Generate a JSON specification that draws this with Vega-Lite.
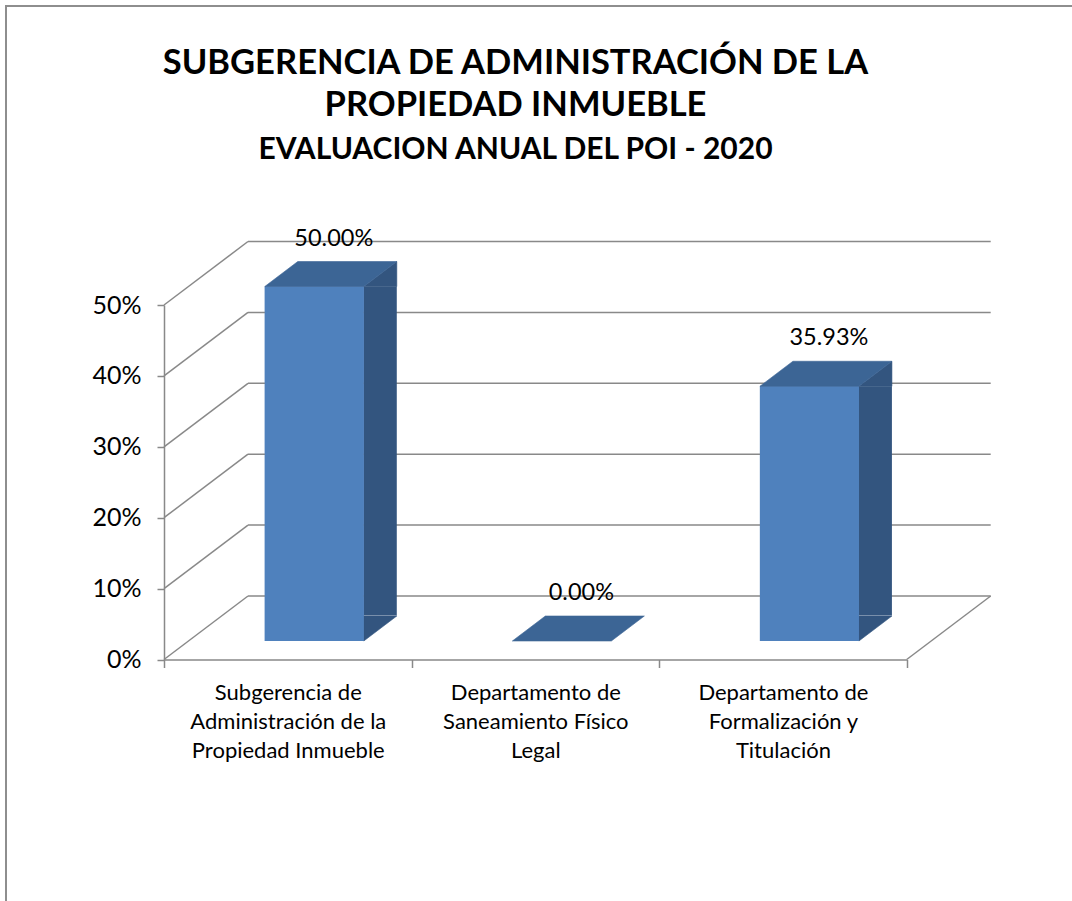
{
  "$schema": "https://vega.github.io/schema/vega-lite/v6.json",
  "width": 1069,
  "height": 898,
  "autosize": {"type": "none"},
  "padding": {"left": 6, "top": 6, "right": -3, "bottom": -3},
  "background": "white",
  "config": {"view": {"stroke": "#8e8e8e", "strokeWidth": 2}, "font": "Lato"},
  "title": {
    "text": ["SUBGERENCIA DE ADMINISTRACIÓN DE LA", "PROPIEDAD INMUEBLE"],
    "subtitle": "EVALUACION ANUAL DEL POI - 2020",
    "font": "Lato", "fontSize": 34.5, "fontWeight": "bold", "color": "black", "lineHeight": 42,
    "subtitleFont": "Lato", "subtitleFontSize": 30, "subtitleFontWeight": "bold", "subtitleColor": "black",
    "subtitlePadding": 12, "anchor": "middle", "frame": "group", "offset": -160, "dx": -25
  },
  "datasets": {
    "bars": [
      {"categoria": "Subgerencia de Administración de la Propiedad Inmueble", "avance": 0.5},
      {"categoria": "Departamento de Saneamiento Físico Legal", "avance": 0},
      {"categoria": "Departamento de Formalización y Titulación", "avance": 0.3593}
    ],
    "grid": [{"v": 0}, {"v": 0.1}, {"v": 0.2}, {"v": 0.3}, {"v": 0.4}, {"v": 0.5}]
  },
  "layer": [
    {
      "data": {"name": "bars"},
      "mark": {"type": "bar", "color": "#4f81bd", "width": 99, "xOffset": 26.5, "yOffset": -18.5, "y2Offset": -18.5},
      "encoding": {
        "x": {"field": "categoria", "type": "nominal",
              "scale": {"type": "band", "domain": ["Subgerencia de Administración de la Propiedad Inmueble", "Departamento de Saneamiento Físico Legal", "Departamento de Formalización y Titulación"], "range": [158, 900.7], "paddingInner": 0, "paddingOuter": 0},
              "axis": {"orient": "bottom", "offset": -244.5, "title": null, "tickBand": "extent", "labelAngle": 0,
                       "domainColor": "#898989", "domainWidth": 1.5, "tickColor": "#898989", "tickWidth": 1.5, "tickSize": 8,
                       "labelFont": "Lato", "labelFontSize": 22, "labelColor": "black", "labelPadding": 15, "labelLineHeight": 29, "labelLimit": 400,
                       "labelExpr": "datum.label == 'Subgerencia de Administración de la Propiedad Inmueble' ? ['Subgerencia de', 'Administración de la', 'Propiedad Inmueble'] : datum.label == 'Departamento de Saneamiento Físico Legal' ? ['Departamento de', 'Saneamiento Físico', 'Legal'] : datum.label == 'Departamento de Formalización y Titulación' ? ['Departamento de', 'Formalización y', 'Titulación'] : ''"}},
        "y": {"field": "avance", "type": "quantitative", "scale": {"domain": [0, 0.5], "range": [653.5, 299], "nice": false, "zero": true},
              "axis": {"orient": "left", "offset": -158, "title": null, "grid": false, "values": [0, 0.1, 0.2, 0.3, 0.4, 0.5], "format": ".0%",
                       "domainColor": "#898989", "domainWidth": 1.5, "tickColor": "#898989", "tickWidth": 1.5, "tickSize": 7,
                       "labelFont": "Lato", "labelFontSize": 25, "labelColor": "black", "labelPadding": 16}},
        "y2": {"datum": 0}
      }
    },
    {
      "data": {"name": "grid"},
      "mark": {"type": "rule", "color": "#898989", "strokeWidth": 1.5, "xOffset": 84, "x2Offset": 84, "yOffset": -63.5},
      "encoding": {
        "x": {"datum": "Subgerencia de Administración de la Propiedad Inmueble", "type": "nominal", "bandPosition": 0},
        "x2": {"datum": "Departamento de Formalización y Titulación", "bandPosition": 1},
        "y": {"field": "v", "type": "quantitative"}
      }
    },
    {
      "data": {"name": "grid"},
      "mark": {"type": "rule", "color": "#898989", "strokeWidth": 1.5, "x2Offset": 84, "y2Offset": -63.5},
      "encoding": {
        "x": {"datum": "Subgerencia de Administración de la Propiedad Inmueble", "type": "nominal", "bandPosition": 0},
        "x2": {"datum": "Subgerencia de Administración de la Propiedad Inmueble", "bandPosition": 0},
        "y": {"field": "v", "type": "quantitative"},
        "y2": {"field": "v"}
      }
    },
    {
      "data": {"name": "grid"},
      "transform": [{"filter": "datum.v == 0"}],
      "mark": {"type": "rule", "color": "#898989", "strokeWidth": 1.5, "x2Offset": 84, "y2Offset": -63.5},
      "encoding": {
        "x": {"datum": "Departamento de Formalización y Titulación", "type": "nominal", "bandPosition": 1},
        "x2": {"datum": "Departamento de Formalización y Titulación", "bandPosition": 1},
        "y": {"field": "v", "type": "quantitative"},
        "y2": {"field": "v"}
      }
    },
    {
      "data": {"name": "bars"},
      "transform": [{"filter": "datum.avance > 0"}],
      "mark": {"type": "bar", "color": "#33557f", "width": 33, "xOffset": 92.5, "yOffset": -18.5, "y2Offset": -44},
      "encoding": {
        "x": {"field": "categoria", "type": "nominal"},
        "y": {"field": "avance", "type": "quantitative"},
        "y2": {"datum": 0}
      }
    },
    {
      "data": {"name": "bars"},
      "transform": [{"filter": "datum.avance > 0"}],
      "mark": {"type": "point", "shape": "M 49.5 -25 L 49.5 0 L 82.5 -25 Z", "size": 4, "filled": true, "opacity": 1, "fill": "#33557f", "stroke": "#33557f", "strokeWidth": 0.6, "xOffset": 26.5, "yOffset": -18.5},
      "encoding": {
        "x": {"field": "categoria", "type": "nominal"},
        "y": {"datum": 0, "type": "quantitative"}
      }
    },
    {
      "data": {"name": "bars"},
      "transform": [{"filter": "datum.avance > 0"}],
      "mark": {"type": "point", "shape": "M 49.5 0 L 82.5 -25 L 82.5 0 Z", "size": 4, "filled": true, "opacity": 1, "fill": "#33557f", "stroke": "#33557f", "strokeWidth": 0.6, "xOffset": 26.5, "yOffset": -18.5},
      "encoding": {
        "x": {"field": "categoria", "type": "nominal"},
        "y": {"field": "avance", "type": "quantitative"}
      }
    },
    {
      "data": {"name": "bars"},
      "mark": {"type": "bar", "color": "#4f81bd", "width": 99, "xOffset": 26.5, "yOffset": -18.5, "y2Offset": -18.5},
      "encoding": {
        "x": {"field": "categoria", "type": "nominal"},
        "y": {"field": "avance", "type": "quantitative"},
        "y2": {"datum": 0}
      }
    },
    {
      "data": {"name": "bars"},
      "mark": {"type": "point", "shape": "M -49.5 0 L 49.5 0 L 82.5 -25 L -16.5 -25 Z", "size": 4, "filled": true, "opacity": 1, "fill": "#3c6595", "stroke": "#3c6595", "strokeWidth": 0.6, "xOffset": 26.5, "yOffset": -18.5},
      "encoding": {
        "x": {"field": "categoria", "type": "nominal"},
        "y": {"field": "avance", "type": "quantitative"}
      }
    },
    {
      "data": {"name": "bars"},
      "mark": {"type": "text", "font": "Lato", "fontSize": 23.5, "color": "black", "align": "center", "baseline": "middle", "xOffset": 46, "yOffset": -66.5},
      "encoding": {
        "x": {"field": "categoria", "type": "nominal"},
        "y": {"field": "avance", "type": "quantitative"},
        "text": {"field": "avance", "type": "quantitative", "format": ".2%"}
      }
    }
  ]
}
